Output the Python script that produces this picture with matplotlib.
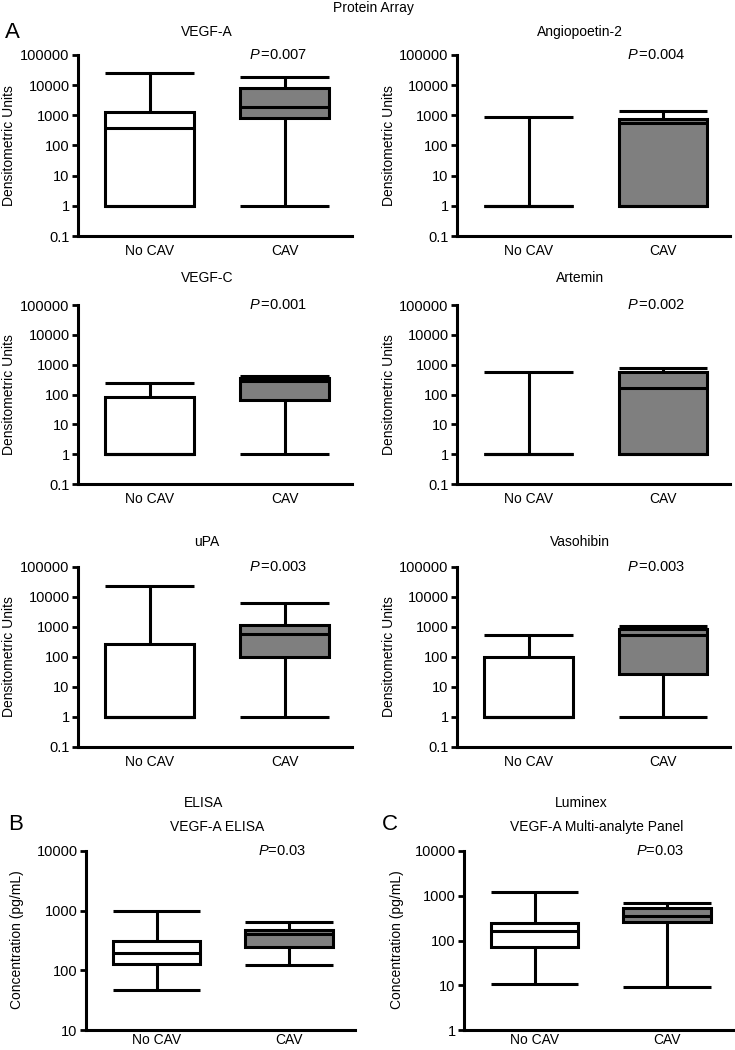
import matplotlib
matplotlib.use("Agg")
import matplotlib.pyplot as plt
from matplotlib.ticker import FixedLocator, FuncFormatter, NullLocator

plt.rcParams['font.family'] = ['Liberation Sans', 'DejaVu Sans']
plt.rcParams['mathtext.fontset'] = 'custom'
plt.rcParams['mathtext.it'] = 'Liberation Sans:italic'
plt.rcParams['mathtext.rm'] = 'Liberation Sans'

# ---------------- data ----------------
groups = ["No CAV", "CAV"]

array_titles = ["VEGF-A", "Angiopoetin-2", "VEGF-C", "Artemin", "uPA", "Vasohibin"]
array_p = ["0.007", "0.004", "0.001", "0.002", "0.003", "0.003"]

nocav_whislo = [1, 1, 1, 1, 1, 1]
nocav_q1 = [1, 1, 1, 1, 1, 1]
nocav_med = [370, 1, 1, 1, 1, 1]
nocav_q3 = [1300, 1, 83, 1, 270, 97]
nocav_whishi = [25000, 850, 250, 550, 24000, 560]

cav_whislo = [1, 1, 1, 1, 1, 1]
cav_q1 = [830, 1, 65, 1, 100, 28]
cav_med = [1850, 550, 290, 160, 600, 530]
cav_q3 = [8000, 770, 345, 580, 1200, 880]
cav_whishi = [19000, 1350, 410, 800, 6200, 1070]

array_ticks = [0.1, 1, 10, 100, 1000, 10000, 100000]

elisa_nocav = [47, 128, 193, 305, 1000]    # whislo, q1, med, q3, whishi
elisa_cav = [123, 250, 410, 478, 640]
elisa_p = "0.03"
elisa_ticks = [10, 100, 1000, 10000]

luminex_nocav = [10.5, 73, 160, 242, 1230]
luminex_cav = [9, 260, 360, 535, 690]
luminex_p = "0.03"
luminex_ticks = [1, 10, 100, 1000, 10000]

# ---------------- layout ----------------
W, H = 735, 1050
fig = plt.figure(figsize=(W / 100, H / 100), dpi=100)


def px_axes(l, r, t, b):
    return fig.add_axes([l / W, 1 - b / H, (r - l) / W, (b - t) / H])


def stat(vals):
    lo, q1, med, q3, hi = vals
    return dict(whislo=lo, q1=q1, med=med, q3=q3, whishi=hi, fliers=[])


def draw_panel(ax, nocav, cav, ticks, ptext, xpad=6):
    stats = [stat(nocav), stat(cav)]
    bw = 0.66
    bp = ax.bxp(stats, positions=[1, 2], widths=bw, capwidths=bw,
                patch_artist=True, showfliers=False,
                boxprops=dict(linewidth=2.2, edgecolor='black'),
                whiskerprops=dict(linewidth=2.2, color='black'),
                capprops=dict(linewidth=2.2, color='black'),
                medianprops=dict(linewidth=2.2, color='black'))
    bp['boxes'][0].set_facecolor('white')
    bp['boxes'][1].set_facecolor('#7f7f7f')
    for ln in bp['medians'] + bp['whiskers'] + bp['caps']:
        ln.set_solid_capstyle('butt')
    ax.set_yscale('log')
    ax.set_ylim(ticks[0], ticks[-1])
    ax.set_xlim(0.467, 2.5)
    ax.yaxis.set_major_locator(FixedLocator(ticks))
    ax.yaxis.set_minor_locator(NullLocator())
    ax.yaxis.set_major_formatter(FuncFormatter(lambda v, p: '%g' % v))
    ax.set_xticks([1, 2])
    ax.set_xticklabels(groups)
    ax.tick_params(axis='x', length=0, labelsize=10, pad=xpad)
    ax.tick_params(axis='y', length=4, width=2, labelsize=10.5, pad=2, direction='out')
    for s in ['top', 'right']:
        ax.spines[s].set_visible(False)
    for s in ['left', 'bottom']:
        ax.spines[s].set_linewidth(2.2)
    ax.set_facecolor('none')
    ax.text(1.95, ticks[-1], ptext, ha='center', va='center', fontsize=10.5, clip_on=False)


# protein array panels
cols = [(78, 352), (457, 730)]
rows = [(55, 236), (305, 484), (567, 747)]
title_x = [207, 580]
title_y = [32, 278, 542]
ylab_x = [9, 389]

for i, name in enumerate(array_titles):
    r, c = divmod(i, 2)
    ax = px_axes(cols[c][0], cols[c][1], rows[r][0], rows[r][1])
    nocav = [nocav_whislo[i], nocav_q1[i], nocav_med[i], nocav_q3[i], nocav_whishi[i]]
    cav = [cav_whislo[i], cav_q1[i], cav_med[i], cav_q3[i], cav_whishi[i]]
    draw_panel(ax, nocav, cav, array_ticks, r'$P\,$=' + array_p[i])
    fig.text(title_x[c] / W, 1 - title_y[r] / H, name, ha='center', va='center', fontsize=10)
    fig.text(ylab_x[c] / W, 1 - (rows[r][0] + rows[r][1]) / 2 / H, "Densitometric Units",
             rotation=90, ha='center', va='center', fontsize=10)

# ELISA & Luminex
axb = px_axes(86, 355, 851, 1030)
draw_panel(axb, elisa_nocav, elisa_cav, elisa_ticks, r'$P$=' + elisa_p, xpad=2.5)
axc = px_axes(464, 733, 851, 1030)
draw_panel(axc, luminex_nocav, luminex_cav, luminex_ticks, r'$P$=' + luminex_p, xpad=2.5)

for x, y in [(17, 940), (397, 940)]:
    fig.text(x / W, 1 - y / H, "Concentration (pg/mL)", rotation=90,
             ha='center', va='center', fontsize=10)

fig.text(373 / W, 1 - 8 / H, "Protein Array", ha='center', va='center', fontsize=10)
fig.text(12 / W, 1 - 33 / H, "A", ha='center', va='center', fontsize=16)
fig.text(16 / W, 1 - 825 / H, "B", ha='center', va='center', fontsize=16)
fig.text(390 / W, 1 - 825 / H, "C", ha='center', va='center', fontsize=16)
fig.text(204 / W, 1 - 803 / H, "ELISA", ha='center', va='center', fontsize=10)
fig.text(217 / W, 1 - 827 / H, "VEGF-A ELISA", ha='center', va='center', fontsize=10)
fig.text(581 / W, 1 - 803 / H, "Luminex", ha='center', va='center', fontsize=10)
fig.text(597 / W, 1 - 827 / H, "VEGF-A Multi-analyte Panel", ha='center', va='center', fontsize=10)

fig.savefig("out.png", dpi=100)
